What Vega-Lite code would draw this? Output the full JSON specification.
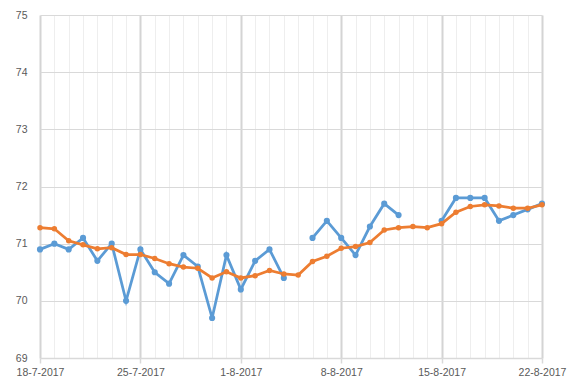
{
  "$schema": "https://vega.github.io/schema/vega-lite/v6.json",
  "width": 502,
  "height": 343,
  "autosize": {"type": "none"},
  "padding": {"left": 40, "top": 15, "right": 40, "bottom": 32},
  "background": "white",
  "config": {"view": {"stroke": null}, "font": "Liberation Sans"},
  "data": {"values": [
    {"date": "2017-07-18", "a": 70.9, "b": 71.28},
    {"date": "2017-07-19", "a": 71.0, "b": 71.26},
    {"date": "2017-07-20", "a": 70.9, "b": 71.05},
    {"date": "2017-07-21", "a": 71.1, "b": 70.98},
    {"date": "2017-07-22", "a": 70.7, "b": 70.91},
    {"date": "2017-07-23", "a": 71.0, "b": 70.93},
    {"date": "2017-07-24", "a": 70.0, "b": 70.81},
    {"date": "2017-07-25", "a": 70.9, "b": 70.81},
    {"date": "2017-07-26", "a": 70.5, "b": 70.74},
    {"date": "2017-07-27", "a": 70.3, "b": 70.65},
    {"date": "2017-07-28", "a": 70.8, "b": 70.59},
    {"date": "2017-07-29", "a": 70.6, "b": 70.57},
    {"date": "2017-07-30", "a": 69.7, "b": 70.40},
    {"date": "2017-07-31", "a": 70.8, "b": 70.51},
    {"date": "2017-08-01", "a": 70.2, "b": 70.40},
    {"date": "2017-08-02", "a": 70.7, "b": 70.44},
    {"date": "2017-08-03", "a": 70.9, "b": 70.53},
    {"date": "2017-08-04", "a": 70.4, "b": 70.47},
    {"date": "2017-08-05", "a": null, "b": 70.45},
    {"date": "2017-08-06", "a": 71.1, "b": 70.69},
    {"date": "2017-08-07", "a": 71.4, "b": 70.78},
    {"date": "2017-08-08", "a": 71.1, "b": 70.92},
    {"date": "2017-08-09", "a": 70.8, "b": 70.95},
    {"date": "2017-08-10", "a": 71.3, "b": 71.02},
    {"date": "2017-08-11", "a": 71.7, "b": 71.24},
    {"date": "2017-08-12", "a": 71.5, "b": 71.28},
    {"date": "2017-08-13", "a": null, "b": 71.30},
    {"date": "2017-08-14", "a": null, "b": 71.28},
    {"date": "2017-08-15", "a": 71.4, "b": 71.35},
    {"date": "2017-08-16", "a": 71.8, "b": 71.55},
    {"date": "2017-08-17", "a": 71.8, "b": 71.65},
    {"date": "2017-08-18", "a": 71.8, "b": 71.68},
    {"date": "2017-08-19", "a": 71.4, "b": 71.66},
    {"date": "2017-08-20", "a": 71.5, "b": 71.62},
    {"date": "2017-08-21", "a": 71.6, "b": 71.62},
    {"date": "2017-08-22", "a": 71.7, "b": 71.68}
  ]},
  "encoding": {
    "x": {
      "field": "date",
      "type": "temporal",
      "scale": {
        "type": "utc",
        "domain": [
          {"year": 2017, "month": 7, "date": 18, "utc": true},
          {"year": 2017, "month": 8, "date": 22, "utc": true}
        ]
      },
      "axis": {
        "title": null,
        "tickCount": {"interval": "day", "step": 1},
        "labelExpr": "round((datum.value - utc(2017,6,18))/86400000) % 7 == 0 ? utcFormat(datum.value, '%-d-%-m-%Y') : ''",
        "labelOverlap": false,
        "labelFlush": false,
        "labelColor": "#595959",
        "labelFontSize": 10.5,
        "labelPadding": 4,
        "domainColor": "#d9d9d9",
        "domainWidth": 1.5,
        "tickSize": 5,
        "tickColor": {"condition": {"test": "round((datum.value - utc(2017,6,18))/86400000) % 7 == 0", "value": "#d9d9d9"}, "value": "transparent"},
        "tickWidth": 1.5,
        "gridColor": {"condition": {"test": "round((datum.value - utc(2017,6,18))/86400000) % 7 == 0", "value": "#d4d4d4"}, "value": "#eeeeee"},
        "gridWidth": {"condition": {"test": "round((datum.value - utc(2017,6,18))/86400000) % 7 == 0", "value": 2}, "value": 1}
      }
    }
  },
  "layer": [
    {
      "mark": {"type": "line", "color": "#5b9bd5", "strokeWidth": 2.75, "invalid": "break-paths-show-domains",
               "point": {"filled": true, "size": 38, "color": "#5b9bd5"}},
      "encoding": {
        "y": {
          "field": "a",
          "type": "quantitative",
          "scale": {"domain": [69, 75], "nice": false, "zero": false},
          "axis": {
            "title": null,
            "values": [69, 70, 71, 72, 73, 74, 75],
            "format": "d",
            "domain": false,
            "ticks": false,
            "labelPadding": 13,
            "labelColor": "#595959",
            "labelFontSize": 10.5,
            "gridColor": "#d9d9d9",
            "gridWidth": 1
          }
        }
      }
    },
    {
      "mark": {"type": "line", "color": "#ed7d31", "strokeWidth": 2.75,
               "point": {"filled": true, "size": 30, "color": "#ed7d31"}},
      "encoding": {
        "y": {"field": "b", "type": "quantitative"}
      }
    }
  ]
}
